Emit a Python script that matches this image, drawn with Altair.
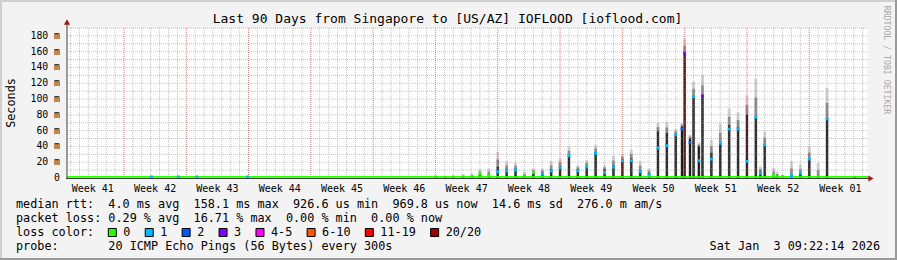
import altair as alt
import pandas as pd

MONO = "DejaVu Sans Mono"

# ---------------- texts ----------------
title_text = "Last 90 Days from Singapore to [US/AZ] IOFLOOD [ioflood.com]"
y_title = "Seconds"
watermark = "RRDTOOL / TOBI OETIKER"
rtt_line = "median rtt:  4.0 ms avg  158.1 ms max  926.6 us min  969.8 us now  14.6 ms sd  276.0 m am/s"
loss_line = "packet loss: 0.29 % avg  16.71 % max  0.00 % min  0.00 % now"
color_head = "loss color:"
probe_line = "probe:       20 ICMP Echo Pings (56 Bytes) every 300s"
stamp = "Sat Jan  3 09:22:14 2026"

# ---------------- axes ----------------
y_tick_values = [0, 20, 40, 60, 80, 100, 120, 140, 160, 180]
y_tick_labels = ["0", "20 m", "40 m", "60 m", "80 m", "100 m", "120 m", "140 m", "160 m", "180 m"]
week_labels = ["Week 41", "Week 42", "Week 43", "Week 44", "Week 45", "Week 46", "Week 47",
               "Week 48", "Week 49", "Week 50", "Week 51", "Week 52", "Week 01"]

# ---------------- loss colours ----------------
loss_labels = ["0", "1", "2", "3", "4-5", "6-10", "11-19", "20/20"]
loss_colors = ["#26ff00", "#00b8ff", "#0059ff", "#7e00ff", "#ff00ff", "#ff5500", "#ff0000", "#a10000"]

# ---------------- data (days since window start, values in ms) ----------------
spike_day = [9.5, 12.5, 14.6, 20.3, 41.4, 42.5, 43.4, 44.5, 45.5,
             46.4, 47.4, 48.4, 49.4, 50.4, 51.4, 52.4, 53.4, 54.4, 55.4,
             56.4, 57.4, 58.4, 59.4, 60.4, 61.4, 62.4, 63.4, 64.4, 65.4,
             66.4, 67.4, 68.4, 69.1, 69.4, 70.0, 70.4, 71.0, 71.4, 72.4,
             73.4, 74.4, 75.4, 76.4, 77.4, 77.9, 78.4, 79.4, 79.8, 80.4,
             81.4, 82.4, 83.4, 84.4, 85.4, 88.5]
spike_dark_ms = [0.5, 0.5, 0.5, 0.5, 1, 1, 1, 1, 1,
                 5, 4, 14, 11, 12, 2, 8, 7, 11, 15,
                 29, 11, 15, 33, 11, 16, 24, 25, 10, 6,
                 59, 57, 56, 65, 158, 50, 104, 40, 105, 32,
                 45, 67, 64, 80, 78, 8, 43, 4, 2, 1,
                 3, 5, 24, 1, 76, 1]
spike_smoke_ms = [2, 2, 2, 2, 4, 3, 4, 5, 6,
                  11, 12, 33, 21, 19, 8, 12, 12, 21, 25,
                  40, 16, 23, 42, 16, 28, 30, 36, 21, 12,
                  70, 71, 62, 70, 177, 55, 122, 45, 130, 48,
                  69, 88, 83, 105, 126, 15, 59, 13, 8, 3,
                  21, 17, 40, 19, 114, 3]
spike_median_ms = [1.5, 1.5, 1.5, 1.5, None, None, None, None, None,
                   5, 3, 8, 9, 10, None, 7, 5, 9, 13,
                   28, 9, 14, 31, 7, 14, 22, 22, 8, 4,
                   38, 41, 55, 62, 158, 45, 103, 22, 104, 24,
                   44, 62, 62, 21, 77, 6, 42, 4, None, 2,
                   3, 6, 24, None, 75, None]
spike_loss = ["1", "1", "1", "1", None, None, None, None, None,
              "0", "0", "1", "1", "1", None, "0", "1", "1", "1",
              "1", "1", "1", "1", "1", "1", "1", "1", "1", "1",
              "1", "1", "1", "2", "3", "2", "1", "1", "3", "1",
              "1", "1", "1", "1", "1", "1", "1", "0", None, "0",
              "1", "1", "1", None, "1", None]
baseline_median_ms = 1.5

# ---------------- layout ----------------
W, H = 801, 150          # plot area
L, T = 67, 28            # plot origin in the page
DAYS = 90
Y_MAX = 190
CHAR = 7.1               # legend character advance in px


def nb(s):
    return s.replace(" ", "\u00a0")


xs = alt.Scale(domain=[0, DAYS], nice=False, zero=False)
ys = alt.Scale(domain=[0, Y_MAX], nice=False, zero=True)

spikes = pd.DataFrame({"day": spike_day, "dark": spike_dark_ms, "smoke": spike_smoke_ms,
                       "median": spike_median_ms, "loss": spike_loss})
spikes["zero"] = 0.0
spikes["mid"] = spikes["dark"] + 0.5 * (spikes["smoke"] - spikes["dark"])
medians = spikes.dropna(subset=["median"]).copy()

Xd = alt.X("day:Q", scale=xs, axis=None)
Y0 = alt.Y("zero:Q", scale=ys, axis=None)

base = alt.Chart(spikes)
smoke_light = base.mark_rule(color="#d4d4d4", strokeWidth=3).encode(x=Xd, y=Y0, y2="smoke:Q")
smoke_mid = base.mark_rule(color="#8a8a8a", strokeWidth=2.5).encode(x=Xd, y=Y0, y2="mid:Q")
smoke_dark = base.mark_rule(color="#1c1c1c", strokeWidth=2).encode(x=Xd, y=Y0, y2="dark:Q")

# grid
week_bounds = [6.4 + 7 * k for k in range(12)]
day_lines = [0.4 + k for k in range(DAYS)]
minor_x = alt.Chart(pd.DataFrame({"day": day_lines})).mark_rule(
    color="#909090", opacity=0.55, strokeDash=[1, 1], strokeWidth=1
).encode(x=Xd, y=alt.value(0), y2=alt.value(H))
major_x = alt.Chart(pd.DataFrame({"day": week_bounds})).mark_rule(
    color="#ff0000", opacity=0.3, strokeDash=[1, 1], strokeWidth=1
).encode(x=Xd, y=alt.value(0), y2=alt.value(H))
minor_y = alt.Chart(pd.DataFrame({"v": [10, 30, 50, 70, 90, 110, 130, 150, 170, 190]})).mark_rule(
    color="#909090", opacity=0.55, strokeDash=[1, 1], strokeWidth=1
).encode(y=alt.Y("v:Q", scale=ys, axis=None), x=alt.value(0), x2=alt.value(W))
major_y = alt.Chart(pd.DataFrame({"v": y_tick_values[1:]})).mark_rule(
    color="#ff0000", opacity=0.3, strokeDash=[1, 1], strokeWidth=1
).encode(y=alt.Y("v:Q", scale=ys, axis=None), x=alt.value(0), x2=alt.value(W))

# median baseline + median marks
green = alt.Chart(pd.DataFrame({"a": [0.0], "b": [float(DAYS)], "v": [baseline_median_ms]})).mark_rule(
    color="#26ff00", strokeWidth=1.8
).encode(x=alt.X("a:Q", scale=xs, axis=None), x2="b:Q", y=alt.Y("v:Q", scale=ys, axis=None))
med_marks = alt.Chart(medians).mark_square(size=8, opacity=1).encode(
    x=Xd, y=alt.Y("median:Q", scale=ys, axis=None),
    color=alt.Color("loss:N", scale=alt.Scale(domain=loss_labels, range=loss_colors), legend=None),
)

dummy = pd.DataFrame({"k": [0]})

# axes lines and arrows
y_axis_line = alt.Chart(dummy).mark_rule(color="#3c3c3c", strokeWidth=1).encode(
    x=alt.value(0), y=alt.value(-4), y2=alt.value(H + 1))
x_axis_line = alt.Chart(dummy).mark_rule(color="#3c3c3c", strokeWidth=1).encode(
    y=alt.value(H + 0.5), x=alt.value(-1), x2=alt.value(W + 1))
up_arrow = alt.Chart(dummy).mark_point(shape="triangle-up", filled=True, size=38, color="#9e1a1a", opacity=1).encode(
    x=alt.value(0), y=alt.value(-6))
right_arrow = alt.Chart(dummy).mark_point(shape="triangle-right", filled=True, size=38, color="#9e1a1a", opacity=1).encode(
    x=alt.value(W + 3), y=alt.value(H + 0.5))

# tick labels
y_labels = alt.Chart(pd.DataFrame({"v": y_tick_values, "t": y_tick_labels})).mark_text(
    font=MONO, fontSize=9.8, align="right", baseline="middle", color="#000000"
).encode(y=alt.Y("v:Q", scale=ys, axis=None), x=alt.value(-7), text="t:N")
week_centers = [6.4 - 3.5 + 7 * k for k in range(len(week_labels))]
x_labels = alt.Chart(pd.DataFrame({"day": week_centers, "t": week_labels})).mark_text(
    font=MONO, fontSize=10, align="center", baseline="alphabetic", color="#000000"
).encode(x=Xd, y=alt.value(163.5), text="t:N")


def label(text, x, y, size, align="left", baseline="alphabetic", angle=0, color="#000000"):
    return alt.Chart(dummy).mark_text(
        text=nb(text), font=MONO, fontSize=size, align=align, baseline=baseline, angle=angle, color=color
    ).encode(x=alt.value(x), y=alt.value(y))


texts = [
    label(title_text, 447.5 - L, 23 - T, 13, align="center"),
    label(y_title, 11 - L, 103 - T, 11.8, align="center", baseline="middle", angle=270),
    label(watermark, 886 - L, 60 - T, 8.2, align="center", baseline="middle", angle=90, color="#a9a9a9"),
    label(rtt_line, 16 - L, 208 - T, 11.8),
    label(loss_line, 16 - L, 222 - T, 11.8),
    label(color_head, 16 - L, 236 - T, 11.8),
    label(probe_line, 16 - L, 250 - T, 11.8),
    label(stamp, 880 - L, 250 - T, 11.8, align="right"),
]

# loss colour legend
legend_layers = []
bx = 108.3 - L
for lab, col in zip(loss_labels, loss_colors):
    legend_layers.append(
        alt.Chart(dummy).mark_rect(color=col, stroke="#000000", strokeWidth=1).encode(
            x=alt.value(bx), x2=alt.value(bx + 8), y=alt.value(228.5 - T), y2=alt.value(236.5 - T))
    )
    legend_layers.append(label(lab, bx + 15, 236 - T, 11.8))
    bx += (4.2 + len(lab)) * CHAR

# frame
frame = [
    alt.Chart(dummy).mark_rule(color="#cfcfcf", strokeWidth=2).encode(
        x=alt.value(-L), x2=alt.value(897 - L), y=alt.value(1 - T)),
    alt.Chart(dummy).mark_rule(color="#cfcfcf", strokeWidth=2).encode(
        x=alt.value(1 - L), y=alt.value(-T), y2=alt.value(260 - T)),
    alt.Chart(dummy).mark_rule(color="#9a9a9a", strokeWidth=2).encode(
        x=alt.value(-L), x2=alt.value(897 - L), y=alt.value(259 - T)),
    alt.Chart(dummy).mark_rule(color="#9a9a9a", strokeWidth=2).encode(
        x=alt.value(896 - L), y=alt.value(-T), y2=alt.value(260 - T)),
]

chart = alt.layer(
    smoke_light, smoke_mid, smoke_dark,
    minor_x, minor_y, major_x, major_y,
    green, med_marks,
    y_axis_line, x_axis_line, up_arrow, right_arrow,
    y_labels, x_labels,
    *texts, *legend_layers, *frame,
).properties(
    width=W, height=H,
    padding={"left": L, "top": T, "right": 897 - L - W, "bottom": 260 - T - H},
    autosize=alt.AutoSizeParams(type="none"),
    background="#f3f3f3",
).configure_view(stroke=None, fill="#ffffff")

chart.save("out.html", embed_options={"renderer": "svg", "actions": False})
